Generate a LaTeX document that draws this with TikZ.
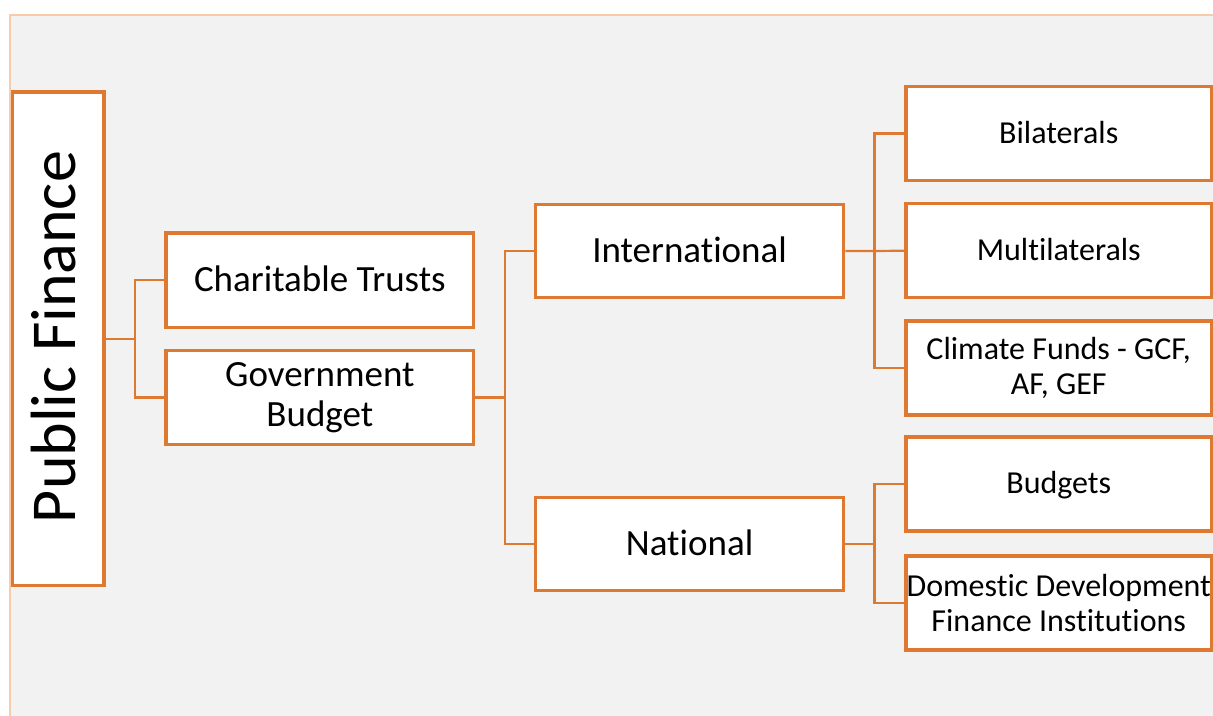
\documentclass[tikz,border=0pt]{standalone}
\usepackage{fontspec}
\setmainfont{Carlito}[RawFeature={-liga;-clig}]
\definecolor{orangeline}{RGB}{222,121,50}
\definecolor{bggray}{RGB}{242,242,242}
\definecolor{bgborder}{RGB}{248,203,173}
\begin{document}
\begin{tikzpicture}[x=1pt,y=-1pt,
  box/.style={draw=orangeline, line width=3.5pt, fill=white, inner sep=0pt, align=center, text=black},
  midbox/.style={box, minimum width=307.7pt, minimum height=94.3pt, font=\fontsize{37}{40}\selectfont},
  rightbox/.style={box, minimum width=305.5pt, minimum height=94pt, font=\fontsize{32}{35.5}\selectfont},
  midone/.style={text height=27.75pt, text depth=4.8pt},
  rightone/.style={text height=24pt, text depth=4.2pt},
  link/.style={draw=orangeline, line width=2.2pt}]
\useasboundingbox (0,0) rectangle (1213,715);
\fill[bggray] (10,15) rectangle (1225,725);
\draw[bgborder, line width=2pt] (10,725) -- (10,15) -- (1225,15);

\node[box, minimum width=91.5pt, minimum height=493.5pt] (PF) at (58.25,338.75) {};
\node[rotate=90, inner sep=0pt, font=\fontsize{64}{70}\selectfont] (PFtext) at (53.5,337) {Public Finance};

\node[midbox, midone] (CT) at (319.85,280.15) {Charitable Trusts};
\node[midbox] (GB) at (319.85,397.5) {Government\\Budget};
\node[midbox, midone, minimum width=308.2pt, minimum height=93.4pt] (Int) at (689.6,251) {International};
\node[midbox, midone, minimum width=308.2pt, minimum height=93.4pt] (Nat) at (689.6,544) {National};

\node[rightbox, rightone] (Bil) at (1058.75,133.4) {Bilaterals};
\node[rightbox, rightone] (Mul) at (1058.75,250.7) {Multilaterals};
\node[rightbox] (Cli) at (1058.75,367.9) {Climate Funds - GCF,\\AF, GEF};
\node[rightbox, rightone] (Bud) at (1058.75,484) {Budgets};
\node[rightbox] (Dom) at (1058.75,603) {Domestic Development\\Finance Institutions};

\coordinate (j1) at (135,338.75);
\coordinate (j2) at (505,397.5);
\coordinate (j3) at (874.5,251);
\coordinate (j4) at (874.5,544);

\draw[link] (PF.east) -- (j1);
\draw[link] (CT.west) -| (j1) |- (GB.west);
\draw[link] (GB.east) -- (j2);
\draw[link] (Int.west) -| (j2) |- (Nat.west);
\draw[link] (Int.east) -- (j3) -- (Mul.west);
\draw[link] (Bil.west) -| (j3) |- (Cli.west);
\draw[link] (Nat.east) -- (j4);
\draw[link] (Bud.west) -| (j4) |- (Dom.west);
\end{tikzpicture}
\end{document}
